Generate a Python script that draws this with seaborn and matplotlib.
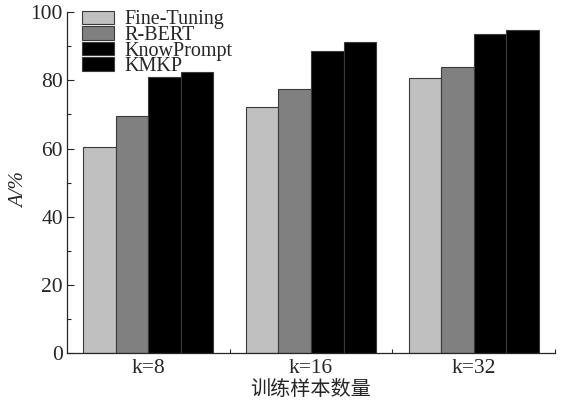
import seaborn as sns
import matplotlib.pyplot as plt
import pandas as pd
from matplotlib.ticker import FixedLocator

groups = ['k=8', 'k=16', 'k=32']
methods = ['Fine-Tuning', 'R-BERT', 'KnowPrompt', 'KMKP']
fine_tuning = [60.3, 72.3, 80.6]
r_bert = [69.4, 77.4, 83.8]
knowprompt = [81.0, 88.5, 93.5]
kmkp = [82.3, 91.1, 94.7]
colors = ['#c0c0c0', '#808080', '#000000', '#000000']

rows = []
for m, vals in zip(methods, [fine_tuning, r_bert, knowprompt, kmkp]):
    for g, v in zip(groups, vals):
        rows.append({'group': g, 'method': m, 'acc': v})
df = pd.DataFrame(rows)

sns.set_style('ticks')
plt.rcParams['font.family'] = ['Liberation Serif', 'Noto Sans CJK SC']
plt.rcParams['font.size'] = 15

fig = plt.figure(figsize=(5.68, 4.04), dpi=100)
ax = fig.add_axes([0.118, 0.126, 0.859, 0.844])
sns.barplot(data=df, x='group', y='acc', hue='method', order=groups,
            hue_order=methods, palette=colors, edgecolor='#3a3a3a',
            linewidth=0.8, saturation=1, ax=ax)

ax.set_xlim(-0.5, 2.5)
ax.set_ylim(0, 100)
ax.set_yticks([0, 20, 40, 60, 80, 100])
ax.yaxis.set_minor_locator(FixedLocator([10, 30, 50, 70, 90]))
ax.xaxis.set_minor_locator(FixedLocator([0.5, 1.5, 2.5]))
ax.tick_params(axis='y', which='major', direction='in', length=5, width=0.8,
               labelsize=15.5, pad=3)
ax.tick_params(axis='y', which='minor', direction='in', length=3, width=0.8)
ax.tick_params(axis='x', which='major', length=0, labelsize=15.5, pad=4)
ax.tick_params(axis='x', which='minor', direction='in', length=3, width=0.8)
for s in ['top', 'right']:
    ax.spines[s].set_visible(False)
for s in ['left', 'bottom']:
    ax.spines[s].set_linewidth(0.9)

ax.set_ylabel('A/%', fontstyle='italic', fontsize=15)
ax.yaxis.set_label_coords(-0.078, 0.478)
ax.set_xlabel('训练样本数量', fontsize=14.5, family=['Noto Sans CJK SC'], labelpad=1)

ax.legend(loc='upper left', bbox_to_anchor=(0.03, 1.005), frameon=False,
          fontsize=14.5, handlelength=1.6, handleheight=0.65, labelspacing=-0.17,
          handletextpad=0.5, borderpad=0, borderaxespad=0)

fig.savefig('out.png', dpi=100)
